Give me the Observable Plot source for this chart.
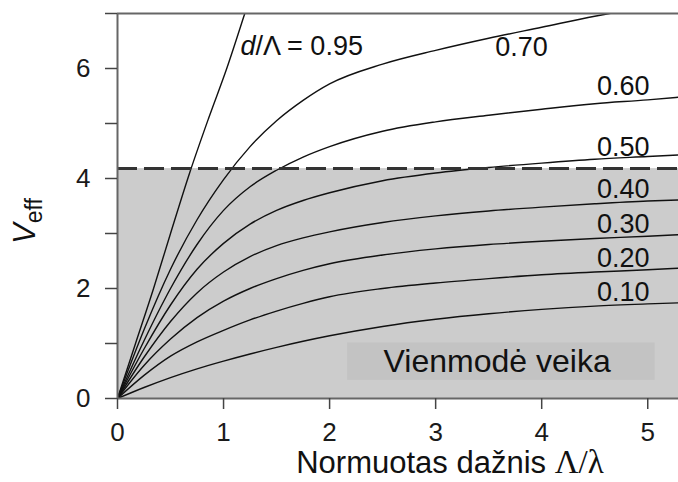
<!DOCTYPE html>
<html><head><meta charset="utf-8">
<script src="https://cdn.jsdelivr.net/npm/d3@7"></script>
<script src="https://cdn.jsdelivr.net/npm/@observablehq/plot@0.6"></script>
<style>body{margin:0;background:#fff;font-family:"Liberation Sans",Arial,sans-serif}</style>
</head><body><div id="chart"></div>
<script>
// normalized frequency grid (Λ/λ) for d/Λ = 0.10 … 0.70
const freq = [0, 0.25, 0.5, 0.75, 1, 1.25, 1.5, 1.75, 2, 2.5, 3, 3.5, 4, 4.5, 5, 5.3];
const v010 = [0, 0.20, 0.38, 0.54, 0.68, 0.81, 0.93, 1.04, 1.14, 1.31, 1.44, 1.54, 1.62, 1.68, 1.72, 1.74];
const v020 = [0, 0.42, 0.77, 1.03, 1.24, 1.43, 1.59, 1.73, 1.85, 2.00, 2.10, 2.18, 2.25, 2.30, 2.34, 2.37];
const v030 = [0, 0.60, 1.08, 1.47, 1.77, 2.00, 2.18, 2.33, 2.45, 2.61, 2.72, 2.80, 2.86, 2.91, 2.95, 2.98];
const v040 = [0, 0.75, 1.40, 1.92, 2.30, 2.58, 2.78, 2.92, 3.03, 3.20, 3.32, 3.41, 3.48, 3.54, 3.59, 3.61];
const v050 = [0, 0.90, 1.70, 2.35, 2.82, 3.17, 3.42, 3.60, 3.74, 3.96, 4.10, 4.20, 4.28, 4.35, 4.40, 4.43];
const v060 = [0, 1.05, 2.00, 2.80, 3.42, 3.85, 4.15, 4.39, 4.58, 4.86, 5.03, 5.15, 5.26, 5.36, 5.43, 5.48];
const v070 = [0, 1.25, 2.35, 3.25, 3.98, 4.58, 5.05, 5.42, 5.72, 6.08, 6.33, 6.55, 6.75, 6.95, 7.12, 7.20];
// d/Λ = 0.95
const freq095 = [0, 0.17, 0.34, 0.5, 0.68, 0.86, 1.03, 1.2, 1.25];
const v095 = [0, 1.0, 2.0, 3.0, 4.1, 5.1, 6.0, 7.0, 7.3];

const seriesNames = ["0.10", "0.20", "0.30", "0.40", "0.50", "0.60", "0.70"];
const seriesValues = [v010, v020, v030, v040, v050, v060, v070];

// single-mode cutoff
const cutoff = 4.18;
const xMax = 5.29;
const yMax = 7;
const xTicks = [0, 1, 2, 3, 4, 5];
const yTicks = [0, 1, 2, 3, 4, 5, 6, 7];

// curve labels (Λ/λ, Veff)
const labelText = ["0.70", "0.60", "0.50", "0.40", "0.30", "0.20", "0.10"];
const labelX = [3.81, 4.77, 4.77, 4.77, 4.77, 4.77, 4.77];
const labelY = [6.38, 5.68, 4.56, 3.81, 3.17, 2.54, 1.93];
const label095 = {x: 1.16, y: 6.40, text: "d/Λ = 0.95"};

const regionText = "Vienmodė veika";
const regionBox = {x1: 2.17, x2: 5.07, y1: 0.33, y2: 1.01};
const regionTextPos = {x: 3.58, y: 0.67};

const xTitle = "Normuotas dažnis ";
const xTitleSym = "Λ/λ";
const yTitle = "V";
const yTitleSub = "eff";

const rows = [];
seriesNames.forEach((n, i) => freq.forEach((f, j) => rows.push({s: n, x: f, y: seriesValues[i][j]})));
freq095.forEach((f, j) => rows.push({s: "0.95", x: f, y: v095[j]}));
const labels = labelText.map((t, i) => ({t, x: labelX[i], y: labelY[i]}));

const font = "Liberation Sans, Arial, sans-serif";
const plot = Plot.plot({
  width: 678,
  height: 482,
  marginLeft: 117,
  marginRight: 0,
  marginTop: 13,
  marginBottom: 84,
  style: {fontFamily: font, color: "#1a1a1a", background: "#fff", overflow: "visible"},
  x: {domain: [0, xMax]},
  y: {domain: [0, yMax]},
  marks: [
    Plot.rect([{x1: 0, x2: xMax, y1: 0, y2: cutoff}], {x1: "x1", x2: "x2", y1: "y1", y2: "y2", fill: "#cccccc"}),
    Plot.rect([regionBox], {x1: "x1", x2: "x2", y1: "y1", y2: "y2", fill: "#c3c3c3"}),
    Plot.text([regionTextPos], {x: "x", y: "y", text: () => regionText, fontSize: 32, fill: "#111"}),
    Plot.line(rows, {x: "x", y: "y", z: "s", stroke: "#111", strokeWidth: 1.4, curve: "monotone-x", clip: true}),
    Plot.ruleY([cutoff], {stroke: "#333", strokeWidth: 3, strokeDasharray: "20,7"}),
    Plot.text(labels, {x: "x", y: "y", text: "t", fontSize: 27, fill: "#111"}),
    Plot.text([label095], {x: "x", y: "y", text: "text", textAnchor: "start", fontSize: 27, fill: "#111"}),
    Plot.ruleY([0, yMax], {stroke: "#666", strokeWidth: 2}),
    Plot.ruleX([0], {stroke: "#666", strokeWidth: 2}),
    Plot.axisX({ticks: xTicks, tickSize: 11, tickPadding: 13, fontSize: 26, label: null, stroke: "#444", strokeWidth: 1.5,
      tickFormat: d => String(d)}),
    Plot.axisY({ticks: yTicks, tickSize: 12, tickPadding: 15, fontSize: 26, label: null, stroke: "#444", strokeWidth: 1.5,
      tickFormat: d => d % 2 === 0 ? String(d) : ""}),
    Plot.text([xTitle], {frameAnchor: "bottom", dx: 52, dy: 74, text: d => d, fontSize: 31, fill: "#111"}),
    Plot.text([yTitle], {frameAnchor: "left", dx: -92, dy: 38, rotate: -90, text: d => d, fontSize: 31, fill: "#111"})
  ]
});
document.getElementById("chart").appendChild(plot);

const texts = Array.from(plot.querySelectorAll("text"));
const find = s => texts.find(t => t.textContent === s);
// x title: serif Λ/λ
const xl = d3.select(find(xTitle));
xl.text(null);
xl.append("tspan").text(xTitle);
xl.append("tspan").attr("font-family", "Liberation Serif, Times New Roman, serif").attr("font-size", 33).text(xTitleSym);
// y title: V with subscript eff
const yl = d3.select(find(yTitle));
yl.text(null);
yl.append("tspan").attr("font-style", "italic").text(yTitle);
yl.append("tspan").attr("font-size", 23).attr("dy", 7).text(yTitleSub);
// d/Λ label: italic d
const l95 = d3.select(find(label095.text));
l95.text(null);
l95.append("tspan").attr("font-style", "italic").text("d");
l95.append("tspan").text("/Λ = 0.95");
</script>
</body></html>
